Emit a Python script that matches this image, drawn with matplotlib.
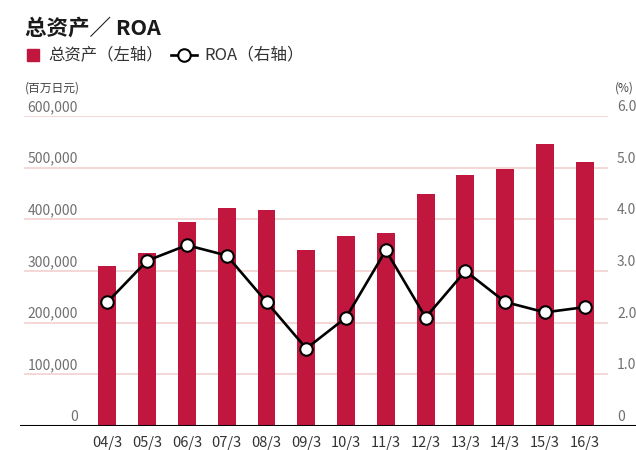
import numpy as np
import matplotlib.pyplot as plt
import matplotlib.transforms as mtransforms
from matplotlib.lines import Line2D
from matplotlib.patches import Rectangle

plt.rcParams['font.family'] = ['Noto Sans CJK SC', 'DejaVu Sans']

# Data
years = ['04/3', '05/3', '06/3', '07/3', '08/3', '09/3', '10/3',
         '11/3', '12/3', '13/3', '14/3', '15/3', '16/3']
total_assets = [310000, 335000, 395000, 422000, 418000, 341000, 368000,
                374000, 449000, 486000, 497000, 546000, 511000]
roa = [2.4, 3.2, 3.5, 3.3, 2.4, 1.5, 2.1, 3.4, 2.1, 3.0, 2.4, 2.2, 2.3]

left_ticks = [0, 100000, 200000, 300000, 400000, 500000, 600000]
left_labels = ['0', '100,000', '200,000', '300,000', '400,000', '500,000', '600,000']
right_ticks = [0, 1, 2, 3, 4, 5, 6]
right_labels = ['0', '1.0', '2.0', '3.0', '4.0', '5.0', '6.0']

bar_color = '#c1173f'
grid_color = '#f2d0cf'
label_grey = '#707070'

W, H = 636, 450
fig = plt.figure(figsize=(W / 100, H / 100), dpi=100)
ax = fig.add_axes([20 / W, (H - 426) / H, 616 / W, 310 / H])
ax2 = ax.twinx()

x = np.arange(len(years))
step = 39.8
ax.set_xlim(-(107.5 - 20) / step, len(years) - 1 + (636 - 584.7) / step)
ax.set_ylim(0, 600000)
ax2.set_ylim(0, 6)

for a in (ax, ax2):
    for s in a.spines.values():
        s.set_visible(False)
    a.set_yticks([])
    a.tick_params(length=0)

# gridlines
gl_x0, gl_x1 = 5 / 616, 587 / 616
for t in left_ticks[1:]:
    ax.axhline(t, xmin=gl_x0, xmax=gl_x1, color=grid_color, lw=1.2, zorder=0)
ax.axhline(0, color='black', lw=2.2, zorder=3)

ax.bar(x, total_assets, width=0.45, color=bar_color, zorder=2)
ax2.plot(x, roa, color='black', lw=1.9, marker='o', markersize=9,
         markerfacecolor='white', markeredgecolor='black', markeredgewidth=1.5,
         zorder=4)

ax.set_xticks(x)
ax.set_xticklabels(years, fontsize=10.5, color='#333333')
ax.tick_params(axis='x', pad=7)

# y labels sit above gridlines
bl = mtransforms.blended_transform_factory(ax.transAxes, ax.transData)
br = mtransforms.blended_transform_factory(ax.transAxes, ax2.transData)
for t, lab in zip(left_ticks, left_labels):
    ax.text(58 / 616, t + 4000, lab, transform=bl, ha='right', va='bottom',
            fontsize=10, color=label_grey)
for t, lab in zip(right_ticks, right_labels):
    ax2.text(597 / 616, t + 0.04, lab, transform=br, ha='left', va='bottom',
             fontsize=10, color=label_grey)

fig.text(25 / W, 1 - 88 / H, '(百万日元)', fontsize=8.5, color='#444444',
         va='center', ha='left')
fig.text(615 / W, 1 - 88 / H, '(%)', fontsize=8.5, color='#444444',
         va='center', ha='left')

# title
fig.text(25 / W, 1 - 28 / H, '总资产／ ROA', fontsize=15.5, fontweight='bold',
         color='#1a1a1a', va='center', ha='left')

# legend
fig.add_artist(Rectangle((27 / W, 1 - 61 / H), 12 / W, 12 / H,
                         transform=fig.transFigure, color=bar_color))
fig.text(48 / W, 1 - 55 / H, '总资产（左轴）', fontsize=11.8, color='#333333',
         va='center', ha='left')
fig.add_artist(Line2D([171 / W, 197 / W], [1 - 55 / H, 1 - 55 / H],
                      transform=fig.transFigure, color='black', lw=1.9))
fig.add_artist(Line2D([184 / W], [1 - 55 / H], transform=fig.transFigure,
                      marker='o', markersize=9, markerfacecolor='white',
                      markeredgecolor='black', markeredgewidth=1.5))
fig.text(204 / W, 1 - 55 / H, 'ROA（右轴）', fontsize=12, color='#333333',
         va='center', ha='left')

fig.savefig('out.png', dpi=100)
